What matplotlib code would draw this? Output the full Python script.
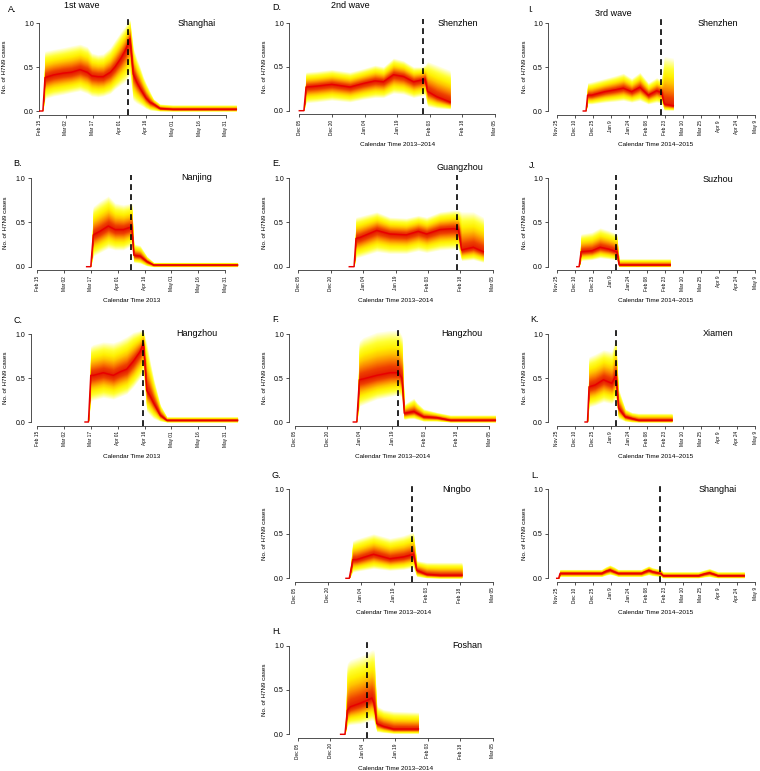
import numpy as np
import matplotlib
matplotlib.use("Agg")
import matplotlib.pyplot as plt
from matplotlib.colors import LinearSegmentedColormap

plt.rcParams['font.family'] = ['Liberation Sans', 'DejaVu Sans']

# ---------------- data (days since first tick of the column) ----------------
col1_ticks = ['Feb 15', 'Mar 02', 'Mar 17', 'Apr 01', 'Apr 16', 'May 01', 'May 16', 'May 31']
col2_ticks = ['Dec 05', 'Dec 20', 'Jan 04', 'Jan 19', 'Feb 03', 'Feb 18', 'Mar 05']
col3_ticks = ['Nov 25', 'Dec 10', 'Dec 25', 'Jan 9', 'Jan 24', 'Feb 08', 'Feb 23',
              'Mar 10', 'Mar 25', 'Apr 9', 'Apr 24', 'May 9']
tick_step = 15

A_day = [0, 2, 3.2, 8, 13.5, 18, 23, 27, 29.5, 33, 36, 40, 42.6, 46, 48.2, 50, 51, 52.9, 54.8, 56.7, 58.5, 60, 62.3, 64.2, 67.9, 75, 111]
A_med = [0, 0, 0.38, 0.41, 0.43, 0.44, 0.47, 0.44, 0.40, 0.39, 0.39, 0.44, 0.50, 0.60, 0.68, 0.76, 0.82, 0.42, 0.33, 0.26, 0.20, 0.15, 0.10, 0.08, 0.03, 0.02, 0.02]
A_hi = [0, 0, 0.68, 0.70, 0.72, 0.74, 0.76, 0.73, 0.66, 0.64, 0.65, 0.72, 0.80, 0.90, 0.96, 1.02, 1.04, 0.72, 0.60, 0.50, 0.39, 0.32, 0.22, 0.14, 0.08, 0.07, 0.07]
A_lo = [0, 0, 0.14, 0.17, 0.19, 0.21, 0.23, 0.20, 0.17, 0.16, 0.17, 0.20, 0.25, 0.30, 0.33, 0.38, 0.42, 0.12, 0.09, 0.07, 0.05, 0.03, 0.01, 0.005, 0.0, 0.0, 0.0]
A_close = 50

B_day = [27.6, 29.9, 31.3, 35, 39.7, 43.5, 48.1, 52.8, 54, 57.5, 61.2, 65, 112]
B_med = [0, 0, 0.36, 0.40, 0.46, 0.42, 0.42, 0.45, 0.13, 0.12, 0.06, 0.02, 0.02]
B_hi = [0, 0, 0.68, 0.74, 0.80, 0.72, 0.70, 0.72, 0.26, 0.24, 0.12, 0.05, 0.05]
B_lo = [0, 0, 0.12, 0.16, 0.21, 0.19, 0.19, 0.24, 0.05, 0.04, 0.01, 0.0, 0.0]
B_close = 52.4

C_day = [26.7, 28.6, 29.9, 31.3, 36.9, 42.5, 46.3, 50, 53.7, 57.5, 59.3, 61.2, 63, 65, 68.7, 72.4, 112]
C_med = [0, 0, 0.53, 0.53, 0.56, 0.53, 0.57, 0.60, 0.69, 0.80, 0.89, 0.36, 0.30, 0.22, 0.08, 0.02, 0.02]
C_hi = [0, 0, 0.86, 0.88, 0.91, 0.90, 0.93, 0.97, 1.02, 1.04, 1.04, 0.90, 0.70, 0.50, 0.20, 0.06, 0.06]
C_lo = [0, 0, 0.24, 0.25, 0.28, 0.26, 0.29, 0.32, 0.40, 0.50, 0.58, 0.12, 0.08, 0.04, 0.01, 0.0, 0.0]
C_close = 59.3

D_day = [0, 2.1, 3.1, 8, 14.9, 23.3, 29.4, 34.8, 38.7, 43.3, 47.9, 52.5, 56.3, 57.8, 59, 63.2, 69.3]
D_med = [0, 0, 0.27, 0.28, 0.30, 0.27, 0.31, 0.34, 0.33, 0.41, 0.39, 0.33, 0.35, 0.36, 0.22, 0.16, 0.10]
D_hi = [0, 0, 0.44, 0.45, 0.47, 0.44, 0.48, 0.52, 0.50, 0.60, 0.57, 0.50, 0.50, 0.52, 0.56, 0.52, 0.46]
D_lo = [0, 0, 0.09, 0.10, 0.12, 0.10, 0.13, 0.15, 0.15, 0.20, 0.19, 0.15, 0.17, 0.18, 0.05, 0.03, 0.02]
D_close = 56.7

E_day = [23.6, 25.8, 26.7, 28.5, 36.3, 42.4, 50, 55.5, 59.4, 65.6, 71.8, 74.1, 75.6, 81, 85.6]
E_med = [0, 0, 0.32, 0.33, 0.41, 0.37, 0.36, 0.40, 0.37, 0.42, 0.43, 0.42, 0.19, 0.22, 0.17]
E_hi = [0, 0, 0.56, 0.57, 0.62, 0.56, 0.55, 0.58, 0.56, 0.62, 0.64, 0.64, 0.62, 0.62, 0.56]
E_lo = [0, 0, 0.10, 0.11, 0.17, 0.15, 0.15, 0.18, 0.16, 0.19, 0.20, 0.20, 0.07, 0.08, 0.05]
E_close = 73.3

F_day = [27, 28.6, 29.8, 31.7, 37.9, 44.1, 48, 49.5, 50.6, 53, 55, 56.5, 59.5, 65.7, 71.9, 92.8]
F_med = [0, 0, 0.48, 0.49, 0.53, 0.56, 0.56, 0.50, 0.10, 0.11, 0.12, 0.10, 0.06, 0.05, 0.02, 0.02]
F_hi = [0, 0, 0.92, 0.96, 1.02, 1.04, 1.04, 0.98, 0.20, 0.24, 0.27, 0.22, 0.15, 0.11, 0.08, 0.08]
F_lo = [0, 0, 0.18, 0.20, 0.26, 0.29, 0.31, 0.28, 0.03, 0.04, 0.04, 0.03, 0.01, 0.01, 0.0, 0.0]
F_close = 47.6

G_day = [23.2, 24.7, 26.3, 28, 35.7, 43.2, 49.3, 53.9, 55.4, 59.9, 66, 75.9]
G_med = [0, 0, 0.21, 0.21, 0.27, 0.22, 0.24, 0.27, 0.09, 0.045, 0.035, 0.035]
G_hi = [0, 0, 0.42, 0.44, 0.50, 0.45, 0.48, 0.52, 0.20, 0.18, 0.18, 0.18]
G_lo = [0, 0, 0.07, 0.08, 0.11, 0.09, 0.10, 0.12, 0.02, 0.005, 0.0, 0.0]
G_close = 53.1

H_day = [19.8, 21.8, 22.9, 24.2, 28.8, 31.8, 34.2, 35.2, 36.5, 39.5, 44.2, 55.7]
H_med = [0, 0, 0.27, 0.31, 0.35, 0.38, 0.41, 0.35, 0.12, 0.09, 0.06, 0.06]
H_hi = [0, 0, 0.80, 0.84, 0.88, 0.91, 0.95, 0.95, 0.32, 0.28, 0.26, 0.25]
H_lo = [0, 0, 0.10, 0.11, 0.12, 0.14, 0.16, 0.15, 0.03, 0.02, 0.01, 0.01]
H_close = 32.2

I_day = [22.1, 24.4, 25.7, 29, 40.1, 48.4, 55.4, 62.3, 69.2, 76.2, 83.1, 87.2, 89.5, 97]
I_med = [0, 0, 0.18, 0.18, 0.22, 0.24, 0.26, 0.22, 0.27, 0.18, 0.23, 0.21, 0.08, 0.06]
I_hi = [0, 0, 0.32, 0.33, 0.37, 0.40, 0.43, 0.37, 0.44, 0.32, 0.38, 0.35, 0.62, 0.60]
I_lo = [0, 0, 0.08, 0.08, 0.10, 0.11, 0.12, 0.10, 0.12, 0.08, 0.10, 0.09, 0.01, 0.01]
I_close = 87.2

J_day = [16.7, 18.6, 20.3, 29.2, 36.1, 43, 50, 51.9, 60, 94.4]
J_med = [0, 0, 0.17, 0.18, 0.22, 0.20, 0.17, 0.02, 0.02, 0.02]
J_hi = [0, 0, 0.37, 0.39, 0.44, 0.41, 0.37, 0.09, 0.09, 0.09]
J_lo = [0, 0, 0.07, 0.08, 0.10, 0.09, 0.08, 0.0, 0.0, 0.0]
J_close = 49.2

K_day = [23.6, 25.6, 26.9, 31.9, 38.9, 45.8, 49.2, 51.4, 56.9, 62.5, 68, 95.8]
K_med = [0, 0, 0.40, 0.42, 0.48, 0.44, 0.53, 0.16, 0.06, 0.04, 0.02, 0.02]
K_hi = [0, 0, 0.74, 0.77, 0.82, 0.80, 0.95, 0.38, 0.15, 0.11, 0.10, 0.10]
K_lo = [0, 0, 0.17, 0.19, 0.23, 0.21, 0.26, 0.04, 0.01, 0.0, 0.0, 0.0]
K_close = 49.2

L_day = [0, 1.6, 2.8, 30, 37.3, 41, 44.2, 47.5, 51.1, 70.4, 73.5, 76.5, 79.5, 82.9, 86.5, 88.4, 118, 123, 127, 131, 134, 156]
L_med = [0, 0, 0.056, 0.056, 0.056, 0.08, 0.094, 0.075, 0.056, 0.056, 0.075, 0.09, 0.075, 0.064, 0.056, 0.03, 0.03, 0.05, 0.062, 0.045, 0.03, 0.03]
L_hi = [0, 0, 0.10, 0.10, 0.10, 0.13, 0.15, 0.13, 0.10, 0.10, 0.12, 0.14, 0.12, 0.11, 0.10, 0.075, 0.075, 0.095, 0.11, 0.09, 0.075, 0.075]
L_lo = [0, 0, 0.02, 0.02, 0.02, 0.035, 0.045, 0.035, 0.02, 0.02, 0.03, 0.04, 0.03, 0.025, 0.02, 0.005, 0.005, 0.015, 0.02, 0.01, 0.005, 0.005]
L_close = 85.6

# ---------------- layout (pixels) ----------------
W, H = 760, 771
fig = plt.figure(figsize=(W / 100, H / 100), dpi=100)

# colour as a function of distance from the median (0 = median, 1 = outer edge)
cmap = LinearSegmentedColormap.from_list(
    'fan', [(0.0, '#E41500'), (0.18, '#EE4000'), (0.32, '#FA8000'),
            (0.48, '#FFC400'), (0.62, '#FFF000'), (0.78, '#FFFF30'),
            (0.90, '#FFFF90'), (1.0, '#FFFFE6')])

panels = [
    ('A', (A_day, A_med, A_lo, A_hi, A_close), 39.3, 39.3, 225.7, col1_ticks, 111, 23, (8, 10), 'Shanghai', (197, 23), None, 5),
    ('B', (B_day, B_med, B_lo, B_hi, B_close), 30.7, 37.3, 225.0, col1_ticks, 266.7, 178.3, (13, 163), 'Nanjing', (197, 178), 'Calendar Time 2013', 5.5),
    ('C', (C_day, C_med, C_lo, C_hi, C_close), 30.7, 37.3, 225.0, col1_ticks, 422, 334, (13, 320), 'Hangzhou', (197, 334), 'Calendar Time 2013', 5.5),
    ('D', (D_day, D_med, D_lo, D_hi, D_close), 289.3, 299.3, 495.0, col2_ticks, 110.7, 23, (272, 7), 'Shenzhen', (458, 23), 'Calendar Time 2013\u20132014', 264),
    ('E', (E_day, E_med, E_lo, E_hi, E_close), 289.3, 298.3, 492.7, col2_ticks, 266.7, 178.3, (272, 163), 'Guangzhou', (460, 168), 'Calendar Time 2013\u20132014', 264),
    ('F', (F_day, F_med, F_lo, F_hi, F_close), 289.3, 295.0, 489.3, col2_ticks, 422, 334, (272, 319), 'Hangzhou', (462, 334), 'Calendar Time 2013\u20132014', 264),
    ('G', (G_day, G_med, G_lo, G_hi, G_close), 289.3, 295.0, 492.7, col2_ticks, 578.3, 489.3, (271, 475), 'Ningbo', (457, 489), 'Calendar Time 2013\u20132014', 264),
    ('H', (H_day, H_med, H_lo, H_hi, H_close), 289.3, 297.7, 492.7, col2_ticks, 734.3, 645.7, (272, 631), 'Foshan', (467, 646), 'Calendar Time 2013\u20132014', 264),
    ('I', (I_day, I_med, I_lo, I_hi, I_close), 548.3, 556.7, 755.0, col3_ticks, 111, 23, (528, 9), 'Shenzhen', (718, 23), 'Calendar Time 2014\u20132015', 524),
    ('J', (J_day, J_med, J_lo, J_hi, J_close), 548.3, 556.7, 755.0, col3_ticks, 266.7, 178.3, (529, 165), 'Suzhou', (718, 179), 'Calendar Time 2014\u20132015', 524),
    ('K', (K_day, K_med, K_lo, K_hi, K_close), 548.3, 556.7, 755.0, col3_ticks, 422, 334, (530, 319), 'Xiamen', (718, 334), 'Calendar Time 2014\u20132015', 524),
    ('L', (L_day, L_med, L_lo, L_hi, L_close), 548.3, 556.7, 755.0, col3_ticks, 578.3, 489.3, (531, 475), 'Shanghai', (718, 489), 'Calendar Time 2014\u20132015', 524),
]

def ftext(x, y, s, **kw):
    fig.text(x / W, 1 - y / H, s, **kw)

NLEV = 40
for (name, (day, med, lo, hi, close), Lpx, T0, TN, ticks, y0, y1, lpos, city, cpos,
     xlab, ylx) in panels:
    day = np.asarray(day, float); med = np.asarray(med, float)
    lo = np.asarray(lo, float); hi = np.asarray(hi, float)
    ndays = tick_step * (len(ticks) - 1)
    pxd = (TN - T0) / ndays
    Rpx = min(max(TN, T0 + day.max() * pxd) + 3, W - 1)
    hpx = (y0 - y1)
    bot = y0 + 0.04 * hpx
    top = y1 - 0.04 * hpx
    ax = fig.add_axes([Lpx / W, 1 - bot / H, (Rpx - Lpx) / W, (bot - top) / H])
    ax.set_xlim(-(T0 - Lpx) / pxd, (Rpx - T0) / pxd)
    ax.set_ylim(-0.04, 1.04)
    ax.patch.set_alpha(0)

    for k in range(NLEV):
        f = 1 - k / NLEV
        ax.fill_between(day, med - (med - lo) * f, med + (hi - med) * f,
                        color=cmap(f), lw=0, zorder=2 + k * 0.001)
    ax.plot(day, med, color='#E80000', lw=1.05, zorder=3, solid_joinstyle='round')
    ax.axvline(close, color='black', lw=1.2, ls=(0, (3.5, 2.5)), zorder=4)

    for s in ['top', 'right']:
        ax.spines[s].set_visible(False)
    ax.spines['left'].set_bounds(0, 1)
    ax.spines['bottom'].set_bounds(0, ndays)
    for s in ['left', 'bottom']:
        ax.spines[s].set_linewidth(0.6)
        ax.spines[s].set_color('#333333')
    ax.set_yticks([0, 0.5, 1.0])
    ax.set_yticklabels(['0.0', '0.5', '1.0'])
    ax.set_xticks([tick_step * i for i in range(len(ticks))])
    ax.set_xticklabels(ticks, rotation=90)
    ax.tick_params(axis='y', labelsize=5, length=2.5, width=0.6, pad=1.5, color='#333333')
    ax.tick_params(axis='x', labelsize=3.4, length=2.5, width=0.6, pad=1.5, color='#333333')

    ftext(lpos[0], lpos[1], name + '.', fontsize=6.5, ha='left', va='center')
    ftext(cpos[0], cpos[1], city, fontsize=6.5, ha='center', va='center')
    ftext(ylx, (y0 + y1) / 2, 'No. of H7N9 cases',
          fontsize=4.5, rotation=90, ha='center', va='center')
    if xlab:
        ftext((T0 + TN) / 2, y0 + 34, xlab, fontsize=4.6, ha='center', va='center')

ftext(82, 6, '1st wave', fontsize=6.5, ha='center', va='center')
ftext(350, 6, '2nd wave', fontsize=6.5, ha='center', va='center')
ftext(613, 13, '3rd wave', fontsize=6.5, ha='center', va='center')

fig.savefig('out.png', dpi=100)
